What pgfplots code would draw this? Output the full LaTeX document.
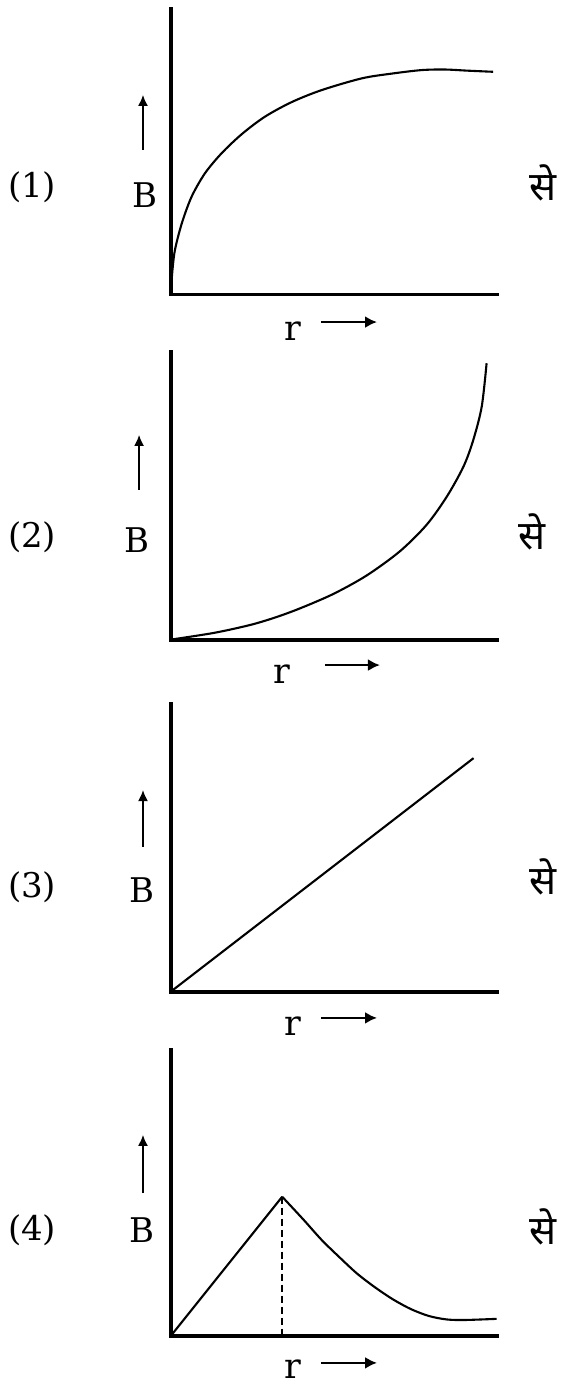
\documentclass[border=0pt]{standalone}
\usepackage{fontspec}
\setmainfont{DejaVu Serif}
\newfontfamily\deva[Script=Devanagari]{Noto Sans}
\usepackage{pgfplots}
\pgfplotsset{compat=1.18}
\usetikzlibrary{arrows.meta}

% one panel of the figure: bare L-shaped axes, no ticks
\pgfplotsset{
  panel/.style={
    scale only axis, width=326pt,
    xmin=0, xmax=1, ymin=0, ymax=1,
    axis x line=bottom, axis y line=left,
    axis line style={line width=3.6pt, -, line cap=rect},
    ticks=none, clip=false, anchor=south west,
  },
  curve/.style={line width=2.1pt, black},
}
\tikzset{
  lab/.style={font=\fontsize{34}{36}\selectfont, inner sep=0pt},
  rlab/.style={font=\fontsize{35}{38}\selectfont, inner sep=0pt},
  selab/.style={font=\deva\fontsize{40}{44}\selectfont, inner sep=0pt},
  uparr/.style={line width=1.5pt, -{Latex[length=11pt,width=10pt]}},
  rtarr/.style={line width=2.6pt, -{Latex[length=12pt,width=12pt]}},
}

\begin{document}
\begin{tikzpicture}
\useasboundingbox (0,0) rectangle (560pt,-1385pt);

% (1) saturating rise
\begin{axis}[panel, height=286pt, at={(170.7pt,-294.3pt)}]
\addplot[curve, smooth] coordinates {
  (0.002,0.03) (0.005,0.08) (0.013,0.155) (0.034,0.248) (0.064,0.341)
  (0.105,0.423) (0.156,0.493) (0.218,0.560) (0.289,0.621) (0.371,0.672)
  (0.463,0.714) (0.586,0.755) (0.68,0.772) (0.77,0.784) (0.84,0.786)
  (0.91,0.782) (0.989,0.778)
};
\node[lab] at (rel axis cs:-0.425,0.375) {(1)};
\node[lab] at (rel axis cs:-0.079,0.347) {B};
\draw[uparr] (rel axis cs:-0.085,0.505) -- (rel axis cs:-0.085,0.697);
\node[selab] at (rel axis cs:1.142,0.389) {से};
\node[rlab] at (rel axis cs:0.375,-0.128) {r};
\draw[rtarr] (rel axis cs:0.461,-0.097) -- (rel axis cs:0.633,-0.097);
\end{axis}

% (2) steep growth
\begin{axis}[panel, height=288pt, at={(170.7pt,-640pt)}]
\addplot[curve, smooth] coordinates {
  (0.004,0.002) (0.134,0.025) (0.243,0.052) (0.32,0.078) (0.397,0.110)
  (0.499,0.160) (0.601,0.224) (0.703,0.308) (0.785,0.400) (0.847,0.498)
  (0.898,0.602) (0.928,0.694) (0.954,0.81) (0.969,0.961)
};
\node[lab] at (rel axis cs:-0.425,0.358) {(2)};
\node[lab] at (rel axis cs:-0.102,0.347) {B};
\draw[uparr] (rel axis cs:-0.097,0.521) -- (rel axis cs:-0.097,0.712);
\node[selab] at (rel axis cs:1.108,0.375) {से};
\node[rlab] at (rel axis cs:0.341,-0.118) {r};
\draw[rtarr] (rel axis cs:0.473,-0.087) -- (rel axis cs:0.642,-0.087);
\end{axis}

% (3) straight line
\begin{axis}[panel, height=288pt, at={(170.7pt,-991.7pt)}]
\addplot[curve] coordinates {(0,0) (0.929,0.811)};
\node[lab] at (rel axis cs:-0.425,0.364) {(3)};
\node[lab] at (rel axis cs:-0.088,0.353) {B};
\draw[uparr] (rel axis cs:-0.085,0.503) -- (rel axis cs:-0.085,0.70);
\node[selab] at (rel axis cs:1.142,0.398) {से};
\node[rlab] at (rel axis cs:0.375,-0.118) {r};
\draw[rtarr] (rel axis cs:0.461,-0.091) -- (rel axis cs:0.633,-0.091);
\end{axis}

% (4) linear rise then decay
\begin{axis}[panel, height=286pt, at={(170.7pt,-1336pt)}]
\addplot[curve] coordinates {(0,0) (0.342,0.487)};
\addplot[curve, smooth] coordinates {
  (0.342,0.487) (0.408,0.406) (0.463,0.336) (0.518,0.275) (0.572,0.218)
  (0.627,0.170) (0.682,0.128) (0.737,0.094) (0.792,0.07) (0.846,0.058)
  (0.901,0.056) (1.0,0.06)
};
\addplot[line width=2.6pt, dash pattern=on 7pt off 4pt] coordinates {(0.342,0.487) (0.342,0)};
\node[lab] at (rel axis cs:-0.425,0.371) {(4)};
\node[lab] at (rel axis cs:-0.088,0.371) {B};
\draw[uparr] (rel axis cs:-0.085,0.50) -- (rel axis cs:-0.085,0.703);
\node[selab] at (rel axis cs:1.142,0.381) {से};
\node[rlab] at (rel axis cs:0.375,-0.115) {r};
\draw[rtarr] (rel axis cs:0.461,-0.094) -- (rel axis cs:0.633,-0.094);
\end{axis}
\end{tikzpicture}
\end{document}
